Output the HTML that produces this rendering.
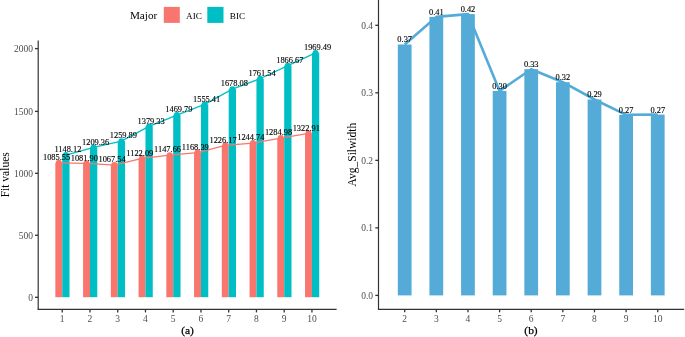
<!DOCTYPE html><html><head><meta charset="utf-8"><style>html,body{margin:0;padding:0;background:#fff;}#w{position:relative;width:685px;height:337px;overflow:hidden;}svg{position:absolute;left:0;top:0;display:block;}#s{filter:blur(0.35px);}#t{filter:blur(0.25px);}text{font-family:"Liberation Serif",serif;}</style></head><body><div id="w"><svg id="s" width="685" height="337" viewBox="0 0 685 337"><rect x="163.8" y="6.9" width="16" height="16" fill="#F8766D"/>
<rect x="207.3" y="6.9" width="16.2" height="16" fill="#00BFC4"/>
<rect x="55.34" y="162.86" width="6.9" height="134.34" fill="#F8766D"/>
<rect x="62.24" y="155.07" width="7.3" height="142.13" fill="#00BFC4"/>
<rect x="83.08" y="163.31" width="6.9" height="133.89" fill="#F8766D"/>
<rect x="89.98" y="147.46" width="7.3" height="149.74" fill="#00BFC4"/>
<rect x="110.83" y="165.10" width="6.9" height="132.10" fill="#F8766D"/>
<rect x="117.73" y="141.17" width="7.3" height="156.03" fill="#00BFC4"/>
<rect x="138.57" y="158.31" width="6.9" height="138.89" fill="#F8766D"/>
<rect x="145.47" y="126.31" width="7.3" height="170.89" fill="#00BFC4"/>
<rect x="166.32" y="155.13" width="6.9" height="142.07" fill="#F8766D"/>
<rect x="173.22" y="115.06" width="7.3" height="182.14" fill="#00BFC4"/>
<rect x="194.06" y="152.55" width="6.9" height="144.65" fill="#F8766D"/>
<rect x="200.96" y="104.41" width="7.3" height="192.79" fill="#00BFC4"/>
<rect x="221.80" y="145.36" width="6.9" height="151.84" fill="#F8766D"/>
<rect x="228.70" y="89.15" width="7.3" height="208.05" fill="#00BFC4"/>
<rect x="249.55" y="143.05" width="6.9" height="154.15" fill="#F8766D"/>
<rect x="256.45" y="78.76" width="7.3" height="218.44" fill="#00BFC4"/>
<rect x="277.29" y="138.05" width="6.9" height="159.15" fill="#F8766D"/>
<rect x="284.19" y="65.69" width="7.3" height="231.51" fill="#00BFC4"/>
<rect x="305.04" y="133.33" width="6.9" height="163.87" fill="#F8766D"/>
<rect x="311.94" y="52.90" width="7.3" height="244.30" fill="#00BFC4"/>
<polyline points="58.79,162.86 86.53,163.31 114.28,165.10 142.02,158.31 169.77,155.13 197.51,152.55 225.25,145.36 253.00,143.05 280.74,138.05 308.49,133.33" fill="none" stroke="#F8766D" stroke-width="1.3"/>
<polyline points="65.89,155.07 93.63,147.46 121.38,141.17 149.12,126.31 176.87,115.06 204.61,104.41 232.35,89.15 260.10,78.76 287.84,65.69 315.59,52.90" fill="none" stroke="#00BFC4" stroke-width="1.3"/>
<circle cx="58.79" cy="162.86" r="3" fill="#F8766D"/>
<circle cx="65.89" cy="155.07" r="3" fill="#00BFC4"/>
<circle cx="86.53" cy="163.31" r="3" fill="#F8766D"/>
<circle cx="93.63" cy="147.46" r="3" fill="#00BFC4"/>
<circle cx="114.28" cy="165.10" r="3" fill="#F8766D"/>
<circle cx="121.38" cy="141.17" r="3" fill="#00BFC4"/>
<circle cx="142.02" cy="158.31" r="3" fill="#F8766D"/>
<circle cx="149.12" cy="126.31" r="3" fill="#00BFC4"/>
<circle cx="169.77" cy="155.13" r="3" fill="#F8766D"/>
<circle cx="176.87" cy="115.06" r="3" fill="#00BFC4"/>
<circle cx="197.51" cy="152.55" r="3" fill="#F8766D"/>
<circle cx="204.61" cy="104.41" r="3" fill="#00BFC4"/>
<circle cx="225.25" cy="145.36" r="3" fill="#F8766D"/>
<circle cx="232.35" cy="89.15" r="3" fill="#00BFC4"/>
<circle cx="253.00" cy="143.05" r="3" fill="#F8766D"/>
<circle cx="260.10" cy="78.76" r="3" fill="#00BFC4"/>
<circle cx="280.74" cy="138.05" r="3" fill="#F8766D"/>
<circle cx="287.84" cy="65.69" r="3" fill="#00BFC4"/>
<circle cx="308.49" cy="133.33" r="3" fill="#F8766D"/>
<circle cx="315.59" cy="52.90" r="3" fill="#00BFC4"/>
<line x1="38.2" y1="40.6" x2="38.2" y2="309.5" stroke="#333333" stroke-width="1.2"/>
<line x1="37.6" y1="309.4" x2="336.6" y2="309.4" stroke="#333333" stroke-width="1.2"/>
<line x1="35" y1="297.30" x2="38.2" y2="297.30" stroke="#333333" stroke-width="1.3"/>
<line x1="35" y1="235.30" x2="38.2" y2="235.30" stroke="#333333" stroke-width="1.3"/>
<line x1="35" y1="173.30" x2="38.2" y2="173.30" stroke="#333333" stroke-width="1.3"/>
<line x1="35" y1="111.40" x2="38.2" y2="111.40" stroke="#333333" stroke-width="1.3"/>
<line x1="35" y1="48.60" x2="38.2" y2="48.60" stroke="#333333" stroke-width="1.3"/>
<line x1="62.24" y1="309.4" x2="62.24" y2="312.4" stroke="#333333" stroke-width="1.3"/>
<line x1="89.98" y1="309.4" x2="89.98" y2="312.4" stroke="#333333" stroke-width="1.3"/>
<line x1="117.73" y1="309.4" x2="117.73" y2="312.4" stroke="#333333" stroke-width="1.3"/>
<line x1="145.47" y1="309.4" x2="145.47" y2="312.4" stroke="#333333" stroke-width="1.3"/>
<line x1="173.22" y1="309.4" x2="173.22" y2="312.4" stroke="#333333" stroke-width="1.3"/>
<line x1="200.96" y1="309.4" x2="200.96" y2="312.4" stroke="#333333" stroke-width="1.3"/>
<line x1="228.70" y1="309.4" x2="228.70" y2="312.4" stroke="#333333" stroke-width="1.3"/>
<line x1="256.45" y1="309.4" x2="256.45" y2="312.4" stroke="#333333" stroke-width="1.3"/>
<line x1="284.19" y1="309.4" x2="284.19" y2="312.4" stroke="#333333" stroke-width="1.3"/>
<line x1="311.94" y1="309.4" x2="311.94" y2="312.4" stroke="#333333" stroke-width="1.3"/>
<rect x="397.82" y="44.50" width="13.75" height="250.90" fill="#54ABD8"/>
<rect x="429.45" y="16.90" width="13.75" height="278.50" fill="#54ABD8"/>
<rect x="461.08" y="14.10" width="13.75" height="281.30" fill="#54ABD8"/>
<rect x="492.71" y="90.90" width="13.75" height="204.50" fill="#54ABD8"/>
<rect x="524.35" y="69.20" width="13.75" height="226.20" fill="#54ABD8"/>
<rect x="555.98" y="82.20" width="13.75" height="213.20" fill="#54ABD8"/>
<rect x="587.61" y="99.50" width="13.75" height="195.90" fill="#54ABD8"/>
<rect x="619.24" y="114.80" width="13.75" height="180.60" fill="#54ABD8"/>
<rect x="650.87" y="114.60" width="13.75" height="180.80" fill="#54ABD8"/>
<polyline points="404.70,44.50 436.33,16.90 467.96,14.10 499.59,90.90 531.22,69.20 562.85,82.20 594.48,99.50 626.11,114.80 657.74,114.60" fill="none" stroke="#54ABD8" stroke-width="2.6" stroke-linejoin="round"/>
<line x1="378.5" y1="0" x2="378.5" y2="309.5" stroke="#333333" stroke-width="1.2"/>
<line x1="377.9" y1="309.3" x2="684.2" y2="309.3" stroke="#333333" stroke-width="1.2"/>
<line x1="375.3" y1="295.40" x2="378.5" y2="295.40" stroke="#333333" stroke-width="1.3"/>
<line x1="375.3" y1="227.88" x2="378.5" y2="227.88" stroke="#333333" stroke-width="1.3"/>
<line x1="375.3" y1="160.35" x2="378.5" y2="160.35" stroke="#333333" stroke-width="1.3"/>
<line x1="375.3" y1="92.82" x2="378.5" y2="92.82" stroke="#333333" stroke-width="1.3"/>
<line x1="375.3" y1="25.30" x2="378.5" y2="25.30" stroke="#333333" stroke-width="1.3"/>
<line x1="404.70" y1="309.3" x2="404.70" y2="312.3" stroke="#333333" stroke-width="1.3"/>
<line x1="436.33" y1="309.3" x2="436.33" y2="312.3" stroke="#333333" stroke-width="1.3"/>
<line x1="467.96" y1="309.3" x2="467.96" y2="312.3" stroke="#333333" stroke-width="1.3"/>
<line x1="499.59" y1="309.3" x2="499.59" y2="312.3" stroke="#333333" stroke-width="1.3"/>
<line x1="531.22" y1="309.3" x2="531.22" y2="312.3" stroke="#333333" stroke-width="1.3"/>
<line x1="562.85" y1="309.3" x2="562.85" y2="312.3" stroke="#333333" stroke-width="1.3"/>
<line x1="594.48" y1="309.3" x2="594.48" y2="312.3" stroke="#333333" stroke-width="1.3"/>
<line x1="626.11" y1="309.3" x2="626.11" y2="312.3" stroke="#333333" stroke-width="1.3"/>
<line x1="657.74" y1="309.3" x2="657.74" y2="312.3" stroke="#333333" stroke-width="1.3"/></svg><svg id="t" width="685" height="337" viewBox="0 0 685 337"><text x="129.9" y="19.1" font-size="11.2" fill="#000">Major</text>
<text x="186.0" y="18.8" font-size="9.2" fill="#000">AIC</text>
<text x="229.8" y="18.8" font-size="9.2" fill="#000">BIC</text>
<text x="56.59" y="160.06" font-size="8.4" text-anchor="middle" fill="#000" stroke="#000" stroke-width="0.12">1085.55</text>
<text x="67.89" y="152.27" font-size="8.4" text-anchor="middle" fill="#000" stroke="#000" stroke-width="0.12">1148.12</text>
<text x="84.33" y="160.51" font-size="8.4" text-anchor="middle" fill="#000" stroke="#000" stroke-width="0.12">1081.90</text>
<text x="95.63" y="144.66" font-size="8.4" text-anchor="middle" fill="#000" stroke="#000" stroke-width="0.12">1209.36</text>
<text x="112.08" y="162.30" font-size="8.4" text-anchor="middle" fill="#000" stroke="#000" stroke-width="0.12">1067.54</text>
<text x="123.38" y="138.37" font-size="8.4" text-anchor="middle" fill="#000" stroke="#000" stroke-width="0.12">1259.89</text>
<text x="139.82" y="155.51" font-size="8.4" text-anchor="middle" fill="#000" stroke="#000" stroke-width="0.12">1122.09</text>
<text x="151.12" y="123.51" font-size="8.4" text-anchor="middle" fill="#000" stroke="#000" stroke-width="0.12">1379.33</text>
<text x="167.57" y="152.33" font-size="8.4" text-anchor="middle" fill="#000" stroke="#000" stroke-width="0.12">1147.66</text>
<text x="178.87" y="112.26" font-size="8.4" text-anchor="middle" fill="#000" stroke="#000" stroke-width="0.12">1469.79</text>
<text x="195.31" y="149.75" font-size="8.4" text-anchor="middle" fill="#000" stroke="#000" stroke-width="0.12">1168.39</text>
<text x="206.61" y="101.61" font-size="8.4" text-anchor="middle" fill="#000" stroke="#000" stroke-width="0.12">1555.41</text>
<text x="223.05" y="142.56" font-size="8.4" text-anchor="middle" fill="#000" stroke="#000" stroke-width="0.12">1226.17</text>
<text x="234.35" y="86.35" font-size="8.4" text-anchor="middle" fill="#000" stroke="#000" stroke-width="0.12">1678.08</text>
<text x="250.80" y="140.25" font-size="8.4" text-anchor="middle" fill="#000" stroke="#000" stroke-width="0.12">1244.74</text>
<text x="262.10" y="75.96" font-size="8.4" text-anchor="middle" fill="#000" stroke="#000" stroke-width="0.12">1761.54</text>
<text x="278.54" y="135.25" font-size="8.4" text-anchor="middle" fill="#000" stroke="#000" stroke-width="0.12">1284.98</text>
<text x="289.84" y="62.89" font-size="8.4" text-anchor="middle" fill="#000" stroke="#000" stroke-width="0.12">1866.67</text>
<text x="306.29" y="130.53" font-size="8.4" text-anchor="middle" fill="#000" stroke="#000" stroke-width="0.12">1322.91</text>
<text x="317.59" y="50.10" font-size="8.4" text-anchor="middle" fill="#000" stroke="#000" stroke-width="0.12">1969.49</text>
<text x="33.0" y="300.80" font-size="9.5" text-anchor="end" fill="#4D4D4D">0</text>
<text x="33.0" y="238.80" font-size="9.5" text-anchor="end" fill="#4D4D4D">500</text>
<text x="33.0" y="176.80" font-size="9.5" text-anchor="end" fill="#4D4D4D">1000</text>
<text x="33.0" y="114.90" font-size="9.5" text-anchor="end" fill="#4D4D4D">1500</text>
<text x="33.0" y="52.10" font-size="9.5" text-anchor="end" fill="#4D4D4D">2000</text>
<text x="62.24" y="321.8" font-size="9.5" text-anchor="middle" fill="#4D4D4D">1</text>
<text x="89.98" y="321.8" font-size="9.5" text-anchor="middle" fill="#4D4D4D">2</text>
<text x="117.73" y="321.8" font-size="9.5" text-anchor="middle" fill="#4D4D4D">3</text>
<text x="145.47" y="321.8" font-size="9.5" text-anchor="middle" fill="#4D4D4D">4</text>
<text x="173.22" y="321.8" font-size="9.5" text-anchor="middle" fill="#4D4D4D">5</text>
<text x="200.96" y="321.8" font-size="9.5" text-anchor="middle" fill="#4D4D4D">6</text>
<text x="228.70" y="321.8" font-size="9.5" text-anchor="middle" fill="#4D4D4D">7</text>
<text x="256.45" y="321.8" font-size="9.5" text-anchor="middle" fill="#4D4D4D">8</text>
<text x="284.19" y="321.8" font-size="9.5" text-anchor="middle" fill="#4D4D4D">9</text>
<text x="311.94" y="321.8" font-size="9.5" text-anchor="middle" fill="#4D4D4D">10</text>
<text transform="translate(8.9,174.8) rotate(-90)" font-size="11.5" text-anchor="middle" fill="#000">Fit values</text>
<text x="187.5" y="333.6" font-size="11.4" stroke="#000" stroke-width="0.25" text-anchor="middle" fill="#000">(a)</text>
<text x="404.70" y="42.40" font-size="8.4" text-anchor="middle" fill="#000" stroke="#000" stroke-width="0.12">0.37</text>
<text x="436.33" y="14.80" font-size="8.4" text-anchor="middle" fill="#000" stroke="#000" stroke-width="0.12">0.41</text>
<text x="467.96" y="12.00" font-size="8.4" text-anchor="middle" fill="#000" stroke="#000" stroke-width="0.12">0.42</text>
<text x="499.59" y="88.80" font-size="8.4" text-anchor="middle" fill="#000" stroke="#000" stroke-width="0.12">0.30</text>
<text x="531.22" y="67.10" font-size="8.4" text-anchor="middle" fill="#000" stroke="#000" stroke-width="0.12">0.33</text>
<text x="562.85" y="80.10" font-size="8.4" text-anchor="middle" fill="#000" stroke="#000" stroke-width="0.12">0.32</text>
<text x="594.48" y="97.40" font-size="8.4" text-anchor="middle" fill="#000" stroke="#000" stroke-width="0.12">0.29</text>
<text x="626.11" y="112.70" font-size="8.4" text-anchor="middle" fill="#000" stroke="#000" stroke-width="0.12">0.27</text>
<text x="657.74" y="112.50" font-size="8.4" text-anchor="middle" fill="#000" stroke="#000" stroke-width="0.12">0.27</text>
<text x="373.0" y="298.90" font-size="9.5" text-anchor="end" fill="#4D4D4D">0.0</text>
<text x="373.0" y="231.38" font-size="9.5" text-anchor="end" fill="#4D4D4D">0.1</text>
<text x="373.0" y="163.85" font-size="9.5" text-anchor="end" fill="#4D4D4D">0.2</text>
<text x="373.0" y="96.32" font-size="9.5" text-anchor="end" fill="#4D4D4D">0.3</text>
<text x="373.0" y="28.80" font-size="9.5" text-anchor="end" fill="#4D4D4D">0.4</text>
<text x="404.70" y="321.8" font-size="9.5" text-anchor="middle" fill="#4D4D4D">2</text>
<text x="436.33" y="321.8" font-size="9.5" text-anchor="middle" fill="#4D4D4D">3</text>
<text x="467.96" y="321.8" font-size="9.5" text-anchor="middle" fill="#4D4D4D">4</text>
<text x="499.59" y="321.8" font-size="9.5" text-anchor="middle" fill="#4D4D4D">5</text>
<text x="531.22" y="321.8" font-size="9.5" text-anchor="middle" fill="#4D4D4D">6</text>
<text x="562.85" y="321.8" font-size="9.5" text-anchor="middle" fill="#4D4D4D">7</text>
<text x="594.48" y="321.8" font-size="9.5" text-anchor="middle" fill="#4D4D4D">8</text>
<text x="626.11" y="321.8" font-size="9.5" text-anchor="middle" fill="#4D4D4D">9</text>
<text x="657.74" y="321.8" font-size="9.5" text-anchor="middle" fill="#4D4D4D">10</text>
<text transform="translate(356.2,154.6) rotate(-90)" font-size="11.5" text-anchor="middle" fill="#000">Avg_Silwidth</text>
<text x="531" y="333.6" font-size="11.4" stroke="#000" stroke-width="0.25" text-anchor="middle" fill="#000">(b)</text></svg></div></body></html>
